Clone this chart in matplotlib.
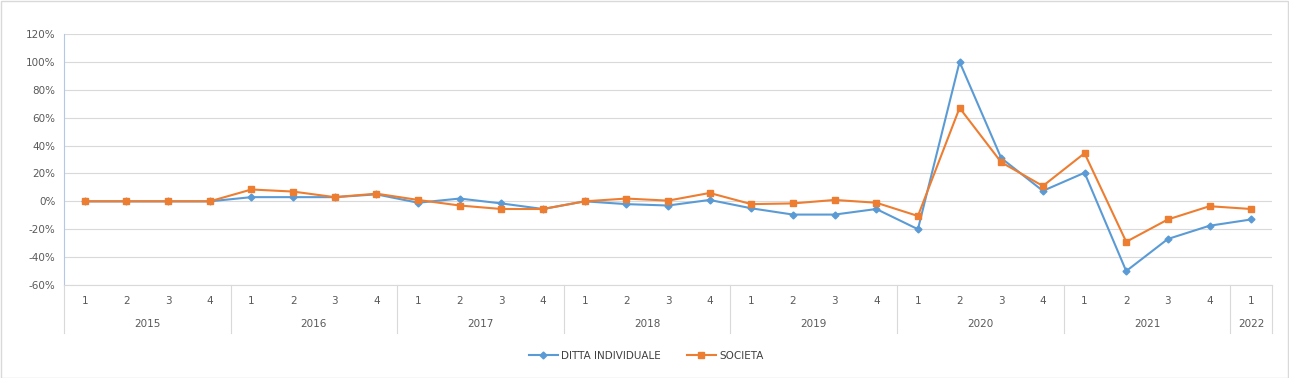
import matplotlib.pyplot as plt
import matplotlib.transforms as mtransforms
from matplotlib.patches import Rectangle
from matplotlib.ticker import FuncFormatter

# data (quarterly change, %)
years = ["2015", "2016", "2017", "2018", "2019", "2020", "2021", "2022"]
quarters_per_year = [4, 4, 4, 4, 4, 4, 4, 1]
ditta = [0, 0, 0, 0,
         3, 3, 3, 5,
         -1, 2, -1.5, -5.5,
         0, -2, -3, 1,
         -5, -9.5, -9.5, -5.5,
         -20, 100, 31, 7.5,
         20.5, -50, -27, -17.5,
         -13]
societa = [0, 0, 0, 0,
           8.5, 7, 3, 5.5,
           1, -3, -5.5, -5.5,
           0, 2, 0.5, 6,
           -2, -1.5, 1, -1,
           -10.5, 67, 28, 11,
           34.5, -29, -13, -3.5,
           -5.5]

blue = "#5B9BD5"
orange = "#ED7D31"
grid_col = "#D9D9D9"
txt_col = "#595959"

fig = plt.figure(figsize=(12.89, 3.78), dpi=100)
fig.patches.append(Rectangle((0.0005, 0.001), 0.999, 0.997, transform=fig.transFigure,
                             fill=False, edgecolor=grid_col, linewidth=1))

W, H = 1289, 378
ax = fig.add_axes([64 / W, (H - 285) / H, (1272 - 64) / W, (285 - 34) / H])

x = list(range(len(ditta)))
ax.plot(x, ditta, color=blue, lw=1.5, marker="D", markersize=3.5, label="DITTA INDIVIDUALE")
ax.plot(x, societa, color=orange, lw=1.5, marker="s", markersize=5, label="SOCIETA")

ax.set_xlim(-0.5, len(x) - 0.5)
ax.set_ylim(-60, 120)
ax.set_yticks(range(-60, 121, 20))
ax.yaxis.set_major_formatter(FuncFormatter(lambda v, p: f"{int(v)}%"))
ax.grid(axis="y", color=grid_col, lw=0.8)
ax.set_axisbelow(True)
ax.tick_params(axis="y", length=0, labelsize=7.5, labelcolor=txt_col, pad=6)
ax.set_xticks([])
for s in ["top", "right"]:
    ax.spines[s].set_visible(False)
ax.spines["left"].set_color("#B4C7E7")
ax.spines["bottom"].set_color(grid_col)

# multi-level category axis
trans = mtransforms.blended_transform_factory(ax.transData, ax.transAxes)
y_q = -(301 - 285) / (285 - 34)
y_y = -(324 - 285) / (285 - 34)
y_end = -(333 - 285) / (285 - 34)
i = 0
bounds = [-0.5]
for yr, n in zip(years, quarters_per_year):
    for q in range(n):
        ax.text(i + q, y_q, str(q + 1), transform=trans, ha="center", va="center",
                fontsize=7.5, color=txt_col)
    ax.text(i + (n - 1) / 2, y_y, yr, transform=trans, ha="center", va="center",
            fontsize=7.5, color=txt_col)
    i += n
    bounds.append(i - 0.5)
for b in bounds:
    ax.plot([b, b], [0, y_end], transform=trans, color=grid_col, lw=0.8, clip_on=False)

leg = fig.legend(loc="center", bbox_to_anchor=(646 / W, 1 - 356 / H), ncol=2, frameon=False,
                 fontsize=7.5, handlelength=2.8, columnspacing=2.5, handletextpad=0.3)
for t in leg.get_texts():
    t.set_color("#404040")

fig.savefig("out.png", dpi=100)
